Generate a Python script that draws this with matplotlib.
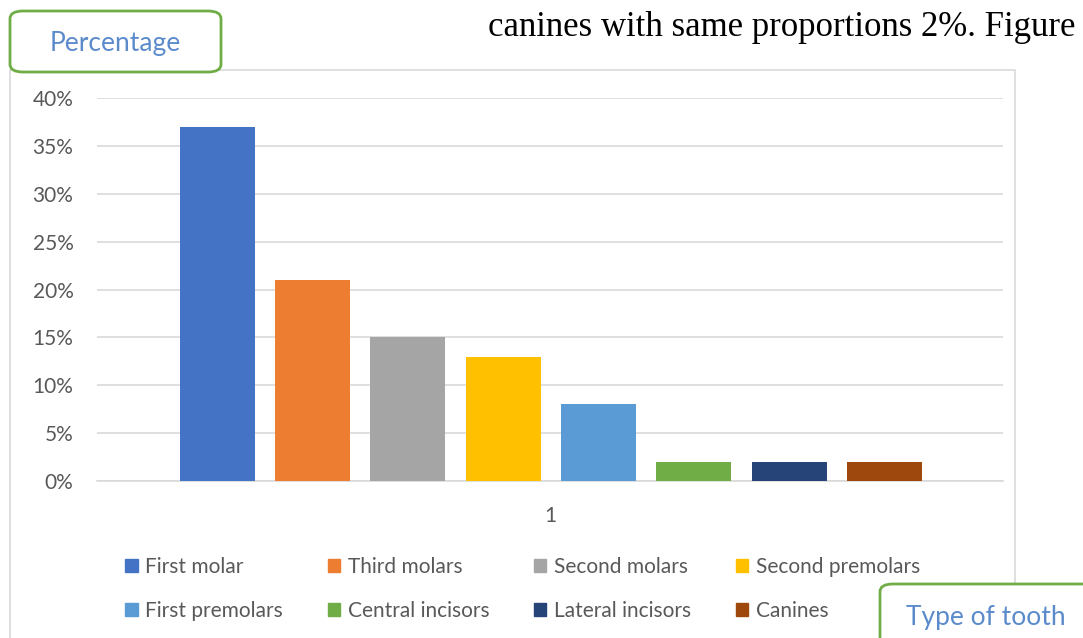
import matplotlib.pyplot as plt
from matplotlib.patches import FancyBboxPatch, Rectangle

plt.rcParams['font.family'] = ['Lato', 'DejaVu Sans']

# data
teeth = ["First molar", "Third molars", "Second molars", "Second premolars",
         "First premolars", "Central incisors", "Lateral incisors", "Canines"]
percent = [37, 21, 15, 13, 8, 2, 2, 2]
colors = ["#4472C4", "#ED7D31", "#A5A5A5", "#FFC000",
          "#5B9BD5", "#70AD47", "#264478", "#9E480E"]
category = ["1"]
yticks = [0, 5, 10, 15, 20, 25, 30, 35, 40]

W, H = 1083, 638
fig = plt.figure(figsize=(W / 100, H / 100), dpi=100)

# outer chart border
fig.patches.append(Rectangle((10 / W, -0.05), (1015 - 10) / W, 1 - 70 / H + 0.05,
                             transform=fig.transFigure, fill=False,
                             edgecolor="#D9D9D9", lw=1.2, zorder=0))

ax = fig.add_axes([97 / W, 1 - 481 / H, (1003 - 97) / W, (481 - 98) / H])
step = 95.3 / 906
width = 75 / 906
n = len(teeth)
for i, (t, v, c) in enumerate(zip(teeth, percent, colors)):
    ax.bar(0.001 + (i - (n - 1) / 2) * step, v, width=width, color=c, label=t, zorder=3)

ax.set_xlim(-0.5, 0.5)
ax.set_ylim(0, 40)
ax.set_yticks(yticks)
ax.set_yticklabels([f"{t}%" for t in yticks])
ax.set_xticks([0])
ax.set_xticklabels(category)
ax.yaxis.grid(True, color="#D9D9D9", lw=1.2, zorder=0)
for s in ["top", "right", "left"]:
    ax.spines[s].set_visible(False)
ax.spines["bottom"].set_color("#D9D9D9")
ax.spines["bottom"].set_linewidth(1.2)
ax.tick_params(axis="both", length=0, colors="#595959", labelsize=15)
ax.tick_params(axis="y", pad=17)
ax.tick_params(axis="x", pad=18)

# legend, row-wise order
handles = [Rectangle((0, 0), 1, 1, color=c) for c in colors]
order = [0, 4, 1, 5, 2, 6, 3, 7]
leg = fig.legend([handles[k] for k in order], [teeth[k] for k in order],
                 ncol=4, loc="center left", bbox_to_anchor=(125 / W, 1 - 589 / H),
                 frameon=False, fontsize=15, handlelength=0.6, handleheight=0.6,
                 handletextpad=0.38, columnspacing=2.13, labelspacing=1.15,
                 borderpad=0, borderaxespad=0)
for t in leg.get_texts():
    t.set_color("#595959")

# callout boxes
def callout(x0, y0, x1, y1, text, tx, ty):
    box = FancyBboxPatch((x0 / W, 1 - y1 / H), (x1 - x0) / W, (y1 - y0) / H,
                         boxstyle="round,pad=0,rounding_size=0.012",
                         transform=fig.transFigure, facecolor="white",
                         edgecolor="#70AD47", lw=2, zorder=5)
    fig.patches.append(box)
    fig.text(tx / W, 1 - ty / H, text, color="#5B8BCB", fontsize=19,
             ha="center", va="center", zorder=6)

callout(10, 11, 221, 72, "Percentage", 115, 44)
callout(880, 584, 1100, 660, "Type of tooth", 986, 617)

fig.text(1075 / W, 1 - 27 / H, "canines with same proportions 2%. Figure",
         family="Liberation Serif", fontsize=25, color="black",
         ha="right", va="center")

fig.savefig("out.png", dpi=100)
plt.close(fig)
